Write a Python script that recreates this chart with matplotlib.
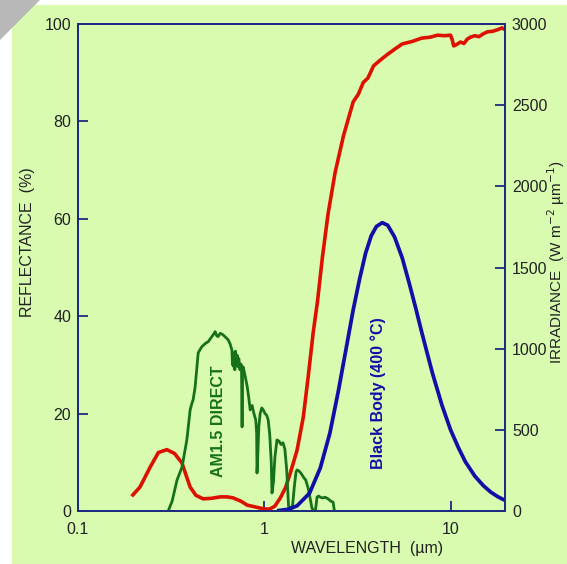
import matplotlib.pyplot as plt
from matplotlib.patches import Rectangle, Polygon

plt.rcParams['font.family'] = ['Liberation Sans', 'DejaVu Sans']

# Datos: reflectancia (eje izquierdo, %)
refl_w = [0.197, 0.215, 0.244, 0.27, 0.30, 0.33, 0.361, 0.40, 0.43, 0.47, 0.52,
          0.58, 0.63, 0.68, 0.75, 0.81, 0.88, 0.95, 1.01, 1.07, 1.14, 1.22, 1.30,
          1.38, 1.50, 1.62, 1.72, 1.83, 1.93, 2.05, 2.2, 2.4, 2.66, 3.0, 3.2, 3.4,
          3.6, 3.86, 4.2, 4.6, 5.0, 5.5, 6.2, 7.0, 7.8, 8.5, 9.3, 10.0, 10.2, 10.4,
          10.8, 11.3, 11.8, 12.3, 12.8, 13.5, 14.2, 15.0, 15.8, 16.8, 17.8, 18.9,
          19.5]
refl_v = [3.3, 4.9, 9.0, 12.0, 12.6, 11.8, 9.9, 4.9, 3.2, 2.5, 2.6,
          2.9, 2.9, 2.7, 2.0, 1.2, 0.9, 0.6, 0.4, 0.4, 1.0, 2.7, 4.8,
          7.8, 12.5, 19.3, 27.5, 36.6, 43.0, 52.0, 61.0, 69.5, 77.0, 84.0, 85.6, 88.0,
          88.9, 91.4, 92.6, 93.8, 94.8, 95.9, 96.4, 97.1, 97.3, 97.7, 97.6, 97.7, 96.8,
          95.5, 95.8, 96.3, 96.0, 96.9, 97.3, 97.6, 97.4, 98.0, 98.4, 98.5, 98.8, 99.2,
          98.9]

# Datos: espectro AM1.5 directo (eje derecho, W m-2 um-1)
am15_w = [0.305, 0.32, 0.34, 0.362, 0.384, 0.40, 0.408, 0.415, 0.425, 0.442, 0.462,
          0.48, 0.50, 0.52, 0.535, 0.545, 0.555, 0.565, 0.58, 0.60, 0.62, 0.64,
          0.655, 0.67, 0.675, 0.68, 0.685, 0.69, 0.695, 0.70, 0.71, 0.715, 0.72,
          0.73, 0.74, 0.75, 0.755, 0.76, 0.765, 0.77, 0.79, 0.81, 0.825, 0.84,
          0.86, 0.88, 0.90, 0.91, 0.914, 0.92, 0.935, 0.95, 0.97, 0.99, 1.01,
          1.03, 1.05, 1.07, 1.09, 1.10, 1.12, 1.14, 1.17, 1.20, 1.23, 1.26,
          1.29, 1.32, 1.35, 1.38, 1.42, 1.45, 1.48, 1.50, 1.54, 1.58, 1.62,
          1.67, 1.72, 1.77, 1.80, 1.84, 1.88, 1.92, 1.96, 2.0, 2.06, 2.12, 2.2,
          2.28, 2.34, 2.38]
am15_v = [0, 60, 190, 272, 438, 623, 660, 685, 760, 975, 1012,
          1030, 1043, 1070, 1090, 1105, 1080, 1074, 1095, 1086, 1070, 1055,
          1030, 993, 900, 975, 890, 960, 870, 985, 910, 960, 890,
          940, 870, 905, 860, 518, 880, 888, 830, 765, 700, 623,
          650, 600, 560, 480, 234, 300, 520, 600, 635, 620, 600,
          590, 560, 470, 300, 111, 180, 330, 438, 430, 410, 420,
          380, 250, 30, 0, 40, 150, 240, 253, 245, 230, 210,
          190, 140, 68, 20, 0, 0, 86, 92, 85, 80, 85, 75,
          60, 55, 0]

# Datos: cuerpo negro a 400 C (eje derecho, W m-2 um-1)
bb_w = [1.2, 1.35, 1.5, 1.75, 2.0, 2.25, 2.5, 2.75, 3.0, 3.25, 3.5, 3.75, 4.0,
        4.3, 4.6, 5.0, 5.5, 6.0, 6.5, 7.0, 7.5, 8.0, 9.0, 10.0, 11.0, 12.0,
        13.5, 15.0, 16.5, 18.0, 19.5]
bb_v = [3, 11, 32, 110, 266, 480, 741, 1000, 1238, 1430, 1589, 1695, 1753,
        1776, 1760, 1689, 1560, 1403, 1250, 1102, 970, 848, 650, 500, 392, 304,
        215, 156, 115, 87, 67]

verde_fondo = '#d8fbb0'
azul_eje = '#1c2a80'

fig = plt.figure(figsize=(5.67, 5.64), dpi=100, facecolor='white')
fig.patches.append(Rectangle((12 / 567, 0), 1, 1 - 5 / 564, transform=fig.transFigure,
                             facecolor=verde_fondo, edgecolor='none', zorder=-2))
fig.patches.append(Polygon([(0, 1), (40 / 567, 1), (0, 1 - 40 / 564)], closed=True,
                           transform=fig.transFigure, facecolor='#b8b8b8',
                           edgecolor='none', zorder=-1))

ax = fig.add_axes([78 / 567, 1 - 511 / 564, 427 / 567, 487 / 564])
ax.set_facecolor(verde_fondo)
ax2 = ax.twinx()

ax.plot(refl_w, refl_v, color='#dd1100', lw=2.6, zorder=3)
ax2.plot(am15_w, am15_v, color='#17701a', lw=2.0, zorder=2)
ax2.plot(bb_w, bb_v, color='#1010a8', lw=2.7, zorder=2)

ax.set_xscale('log')
ax.set_xlim(0.1, 19.6)
ax.set_ylim(0, 100)
ax2.set_ylim(0, 3000)
ax.set_xticks([0.1, 1, 10])
ax.set_xticklabels(['0.1', '1', '10'])
ax.minorticks_off()
ax.set_yticks([0, 20, 40, 60, 80, 100])
ax2.set_yticks([0, 500, 1000, 1500, 2000, 2500, 3000])

for a in (ax, ax2):
    for s in a.spines.values():
        s.set_color(azul_eje)
        s.set_linewidth(1.3)
    a.tick_params(direction='in', length=7, width=1.3, color=azul_eje,
                  labelsize=11.5, labelcolor='#222222', pad=5)
ax.tick_params(axis='x', pad=8)
ax.tick_params(axis='x', which='minor', length=0)

# Textos
fig.text(28 / 567, 1 - 242 / 564, 'REFLECTANCE  (%)', rotation=90, ha='center',
         va='center', fontsize=11.5, color='#222222')
fig.text(367 / 567, 1 - 549 / 564, 'WAVELENGTH  (\u00b5m)', ha='center', va='center',
         fontsize=11.5, color='#222222')
fig.text(556 / 567, 1 - 262 / 564, 'IRRADIANCE  (W m$^{-2}$ \u00b5m$^{-1}$)', rotation=90,
         ha='center', va='center', fontsize=11, color='#222222')
ax.text(0.566, 18.5, 'AM1.5 DIRECT', rotation=90, ha='center', va='center',
        fontsize=11.5, fontweight='bold', color='#17701a')
ax.text(4.1, 24.3, 'Black Body (400 \u00b0C)', rotation=90, ha='center', va='center',
        fontsize=11.5, fontweight='bold', color='#1010a8')

fig.savefig('out.png', dpi=100, facecolor=fig.get_facecolor())
